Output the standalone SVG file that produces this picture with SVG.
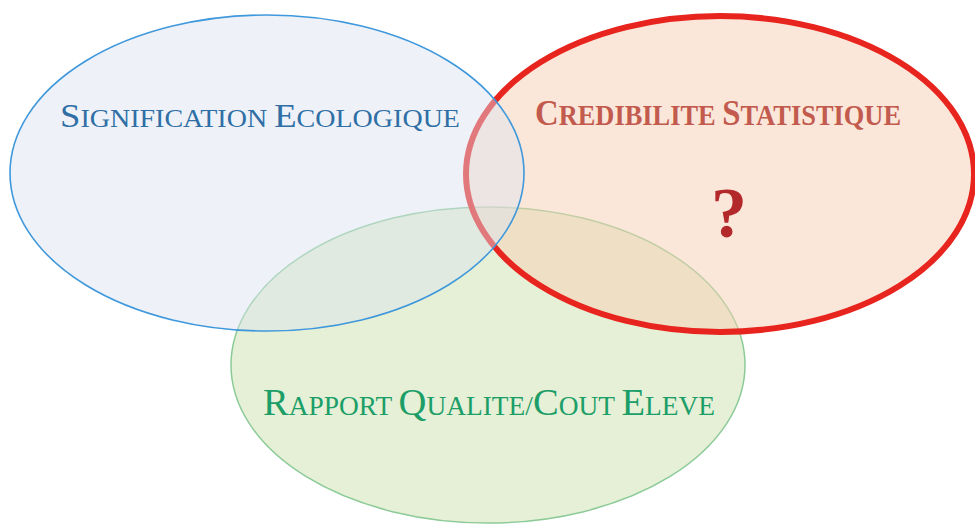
<svg xmlns="http://www.w3.org/2000/svg" width="975" height="525" viewBox="0 0 975 525">
<style>
.lbl{font-family:"Liberation Serif","Times New Roman",serif}
.blue{fill:#2f6fa6}
.red{fill:#c25a4e;font-weight:bold}
.green{fill:#1c9e68}
</style>
<rect width="975" height="525" fill="#ffffff"/>
<g id="green-set">
<ellipse cx="488" cy="365" rx="257" ry="158" fill="#cde2ad" fill-opacity="0.5" stroke="#8ccb98" stroke-width="1.5"/>
</g>
<g id="red-set">
<ellipse cx="720" cy="174" rx="254" ry="158" fill="#f7d0b4" fill-opacity="0.5" stroke="#e8241e" stroke-width="6"/>
</g>
<g id="blue-set">
<ellipse cx="267" cy="173" rx="257" ry="158" fill="#dae3f0" fill-opacity="0.45" stroke="#3f98dc" stroke-width="1.6"/>
</g>
<g id="labels">
<text class="lbl blue" x="60" y="127" textLength="400" lengthAdjust="spacingAndGlyphs"><tspan font-size="34">S</tspan><tspan font-size="26">IGNIFICATION </tspan><tspan font-size="34">E</tspan><tspan font-size="26">COLOGIQUE</tspan></text>
<text class="lbl red" x="535" y="125" textLength="366" lengthAdjust="spacingAndGlyphs"><tspan font-size="36">C</tspan><tspan font-size="29">REDIBILITE </tspan><tspan font-size="36">S</tspan><tspan font-size="29">TATISTIQUE</tspan></text>
<text class="lbl" x="729" y="237" text-anchor="middle" font-size="72" font-weight="bold" fill="#b3292b">?</text>
<text class="lbl green" x="263" y="415" textLength="452" lengthAdjust="spacingAndGlyphs"><tspan font-size="38">R</tspan><tspan font-size="27">APPORT </tspan><tspan font-size="38">Q</tspan><tspan font-size="27">UALITE/</tspan><tspan font-size="38">C</tspan><tspan font-size="27">OUT </tspan><tspan font-size="38">E</tspan><tspan font-size="27">LEVE</tspan></text>
</g>
</svg>
